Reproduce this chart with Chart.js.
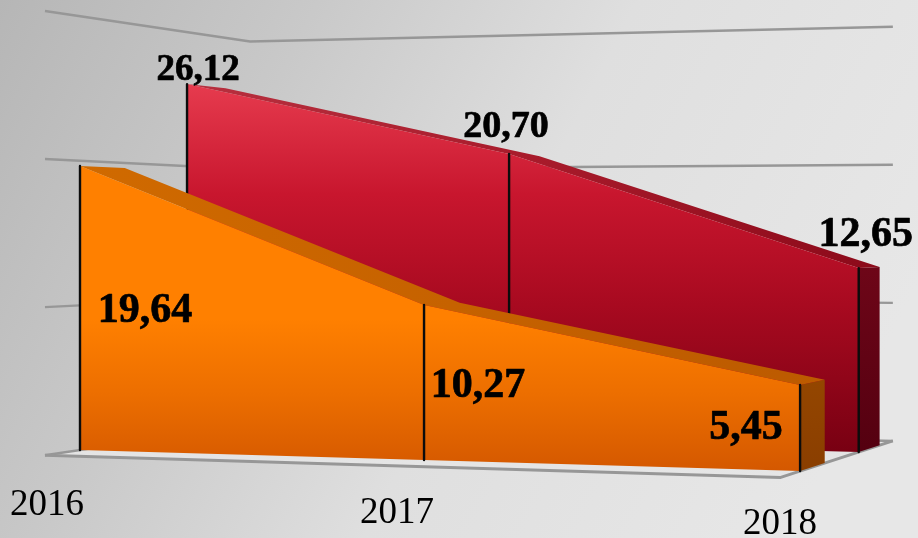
<!DOCTYPE html>
<html><head><meta charset="utf-8">
<style>html,body{margin:0;padding:0;background:#ddd;overflow:hidden}canvas{display:block}</style>
<script src="https://cdn.jsdelivr.net/npm/chart.js@4"></script>
</head><body><canvas id="c" width="918" height="538"></canvas>
<script>
const categories = ['2016', '2017', '2018'];
const frontSeries = [19.64, 10.27, 5.45];
const backSeries = [26.12, 20.70, 12.65];
const gridValues = [0, 10, 20, 30];

// Perspective projection of (category index, depth, value) into the chart's data space.
function project(c, d, v) {
  const w = 1 - 0.04255 * c + 0.0795 * d;
  return {
    x: (80 + 326 * c + 121.9 * d) / w,
    y: (450 - 9.5 * c + 18.5 * d - 14.46 * v) / w
  };
}
const SLAB = 0.4, FRONT = 0, BACK = 1, WALL_NEAR = -0.296, WALL_FAR = 1.667;
const idx = categories.map((_, i) => i);
const rev = a => a.slice().reverse();

function wall(values, d) {
  return [...idx.map(i => project(i, d, values[i])), ...rev(idx).map(i => project(i, d, 0))];
}
function topFace(values, d) {
  return [...idx.map(i => project(i, d, values[i])), ...rev(idx).map(i => project(i, d + SLAB, values[i]))];
}
function cap(values, d) {
  const e = idx.length - 1;
  return [project(e, d, values[e]), project(e, d + SLAB, values[e]), project(e, d + SLAB, 0), project(e, d, 0)];
}
function poly(data, stops, horizontal) {
  return { data, showLine: false, pointRadius: 0, polyStops: stops, polyHorizontal: !!horizontal };
}
function line(data, color, width) {
  return { data, showLine: true, pointRadius: 0, borderColor: color, borderWidth: width, borderJoinStyle: 'round', tension: 0 };
}

const GRID = '#979797', INK = '#0c0c0c';
const last = idx.length - 1;
const layers = [
  poly([project(0, WALL_NEAR, 0), project(last, WALL_NEAR, 0), project(last, WALL_FAR, 0), project(0, WALL_FAR, 0)],
       [[0, '#e2e2e2'], [1, '#e6e6e6']]),
  ...gridValues.map(g => line([project(0, WALL_NEAR, g), project(0, WALL_FAR, g), project(last, WALL_FAR, g)], GRID, 2.4)),
  line([project(0, WALL_NEAR, 0), project(last, WALL_NEAR, 0), project(last, WALL_FAR, 0)], GRID, 3),

  poly(cap(backSeries, BACK), [[0, '#6e0618'], [1, '#540010']]),
  poly(topFace(backSeries, BACK), [[0, '#b8303f'], [0.5, '#a81b2b'], [1, '#8c0a1a']], true),
  poly(wall(backSeries, BACK), [[0, '#e63b4e'], [0.3, '#c8162e'], [0.6, '#a80a20'], [1, '#780012']]),
  ...idx.map(i => line([project(i, BACK, backSeries[i]), project(i, BACK, 0)], INK, 2.4)),

  poly(cap(frontSeries, FRONT), [[0, '#944600'], [1, '#8a3e00']]),
  poly(topFace(frontSeries, FRONT), [[0, '#d06a00'], [1, '#bc5a00']], true),
  poly(wall(frontSeries, FRONT), [[0, '#ff8000'], [0.5, '#ff8000'], [0.75, '#ec6e00'], [1, '#d45800']]),
  ...idx.map(i => line([project(i, FRONT, frontSeries[i]), project(i, FRONT, 0)], INK, 2.4))
];
layers.forEach((ds, i) => { ds.order = layers.length - i; });

const fmt = v => v.toFixed(2).replace('.', ',');
const SERIF = '"Liberation Serif","Times New Roman",serif';

const scenePlugin = {
  id: 'scene',
  beforeDraw(chart) {
    const { ctx, width, height } = chart;
    const g = ctx.createLinearGradient(0, 0, width * 0.92, 430);
    g.addColorStop(0, '#b6b6b6');
    g.addColorStop(0.3, '#c9c9c9');
    g.addColorStop(0.6, '#dfdfdf');
    g.addColorStop(1, '#e7e7e7');
    ctx.save(); ctx.fillStyle = g; ctx.fillRect(0, 0, width, height); ctx.restore();
  },
  beforeDatasetDraw(chart, args) {
    const ds = chart.data.datasets[args.index];
    if (!ds.polyStops) return;
    const pts = args.meta.data, { ctx } = chart;
    const xs = pts.map(p => p.x), ys = pts.map(p => p.y);
    const g = ds.polyHorizontal
      ? ctx.createLinearGradient(Math.min(...xs), 0, Math.max(...xs), 0)
      : ctx.createLinearGradient(0, Math.min(...ys), 0, Math.max(...ys));
    ds.polyStops.forEach(s => g.addColorStop(s[0], s[1]));
    ctx.save();
    ctx.beginPath();
    pts.forEach((p, i) => i ? ctx.lineTo(p.x, p.y) : ctx.moveTo(p.x, p.y));
    ctx.closePath();
    ctx.fillStyle = g;
    ctx.fill();
    ctx.restore();
  },
  afterDatasetsDraw(chart) {
    const { ctx, scales: { x, y } } = chart;
    const put = (text, pt, dx, dy, font, heavy) => {
      const px = x.getPixelForValue(pt.x) + dx, py = y.getPixelForValue(pt.y) + dy;
      ctx.font = font;
      ctx.fillText(text, px, py);
      if (heavy) { ctx.lineWidth = 0.7; ctx.strokeText(text, px, py); }
    };
    ctx.save();
    ctx.fillStyle = '#000';
    ctx.strokeStyle = '#000';
    ctx.lineJoin = 'round';
    ctx.textBaseline = 'alphabetic';
    ctx.textAlign = 'center';
    const bold = s => 'bold ' + s + 'px ' + SERIF;
    const backOffsets = [[11, -4, 37], [-3, -17, 38], [7, -22, 42]];
    const frontOffsets = [[65, 156, 42], [54, 92, 42], [-54, 54, 42]];
    idx.forEach(i => {
      const b = backOffsets[i], f = frontOffsets[i];
      put(fmt(backSeries[i]), project(i, BACK, backSeries[i]), b[0], b[1], bold(b[2]), true);
      put(fmt(frontSeries[i]), project(i, FRONT, frontSeries[i]), f[0], f[1], bold(f[2]), true);
    });
    const yearOffsets = [[-33, 65], [-27, 63], [-20, 63]];
    idx.forEach(i => {
      put(categories[i], project(i, FRONT, 0), yearOffsets[i][0], yearOffsets[i][1], '37px ' + SERIF, false);
    });
    ctx.restore();
  }
};

new Chart(document.getElementById('c'), {
  type: 'scatter',
  data: { datasets: layers },
  plugins: [scenePlugin],
  options: {
    responsive: false,
    animation: false,
    layout: { padding: 0 },
    plugins: { legend: { display: false }, tooltip: { enabled: false } },
    scales: {
      x: { type: 'linear', min: 0, max: 918, display: false },
      y: { type: 'linear', min: 0, max: 538, reverse: true, display: false }
    }
  }
});
</script></body></html>
